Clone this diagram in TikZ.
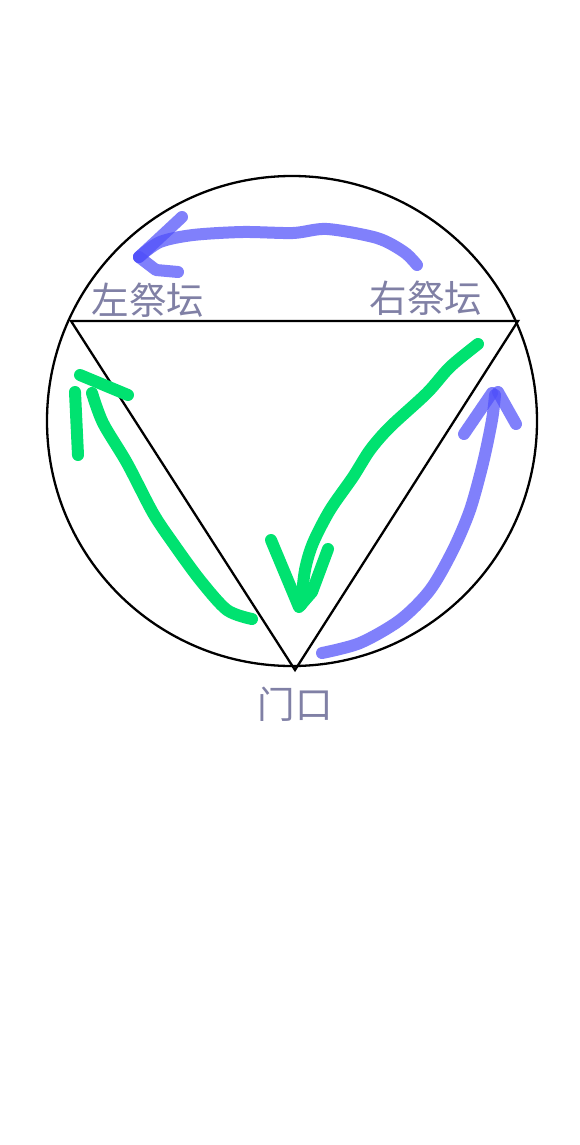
\documentclass[tikz,border=0pt]{standalone}
\usepackage{fontspec}
\newfontfamily\cjk{Noto Sans CJK SC}
\definecolor{penblue}{RGB}{80,80,250}
\definecolor{pengreen}{RGB}{0,226,112}
\definecolor{labelgray}{RGB}{128,128,165}
\begin{document}
\begin{tikzpicture}[x=1pt,y=-1pt,
  outline/.style={draw=black,line width=2.3pt,line join=miter},
  bluestroke/.style={draw=penblue,opacity=0.72,line width=12pt,line cap=round,line join=round},
  greenstroke/.style={draw=pengreen,line width=12pt,line cap=round,line join=round},
  lbl/.style={text=labelgray,font=\cjk\fontsize{37.5}{37.5}\selectfont,inner sep=0pt}]
\useasboundingbox (0,0) rectangle (580,1145);
\fill[white] (0,0) rectangle (580,1145);
% circle and triangle
\coordinate (O) at (292,421);
\draw[outline] (O) circle[radius=245];
\coordinate (L) at (71,321);
\coordinate (R) at (518,321);
\coordinate (B) at (295,670);
\draw[outline] (L) -- (R) -- (B) -- cycle;
% labels
\node[lbl] (left) at (148,300) {左祭坛};
\node[lbl] (right) at (426,298) {右祭坛};
\node[lbl] (gate) at (295,704) {门口};
% blue top arrow (right altar -> left altar)
\draw[bluestroke] plot[smooth,tension=0.5] coordinates{(417,265) (404,252) (377,238) (327,229) (293,233) (243,232) (193,235) (160,242) (139,257)};
\draw[bluestroke] (182,217) -- (139,257);
\draw[bluestroke] (139,257) -- (156,270) -- (178,272);
% blue right arrow (gate -> right altar)
\draw[bluestroke] plot[smooth,tension=0.5] coordinates{(322,653) (360,643) (400,620) (430,590) (453,550) (470,510) (483,463) (492,420) (495,395)};
\draw[bluestroke] (464,434) -- (492,393);
\draw[bluestroke] (498,392) -- (516,424);
% green right arrow (right altar -> gate)
\draw[greenstroke] plot[smooth,tension=0.5] coordinates{(478,344) (450,367) (427,393) (390,427) (370,450) (353,477) (330,510) (313,543) (305,570) (301,605)};
\draw[greenstroke] (271,540) -- (299,607) -- (312,592) -- (328,549);
% green left arrow (gate -> left altar)
\draw[greenstroke] plot[smooth,tension=0.5] coordinates{(252,619) (227,610) (200,580) (173,543) (153,513) (127,463) (103,423) (92,393)};
\draw[greenstroke] (80,375) -- (128,395);
\draw[greenstroke] (75,392) -- (78,455);
\end{tikzpicture}
\end{document}
